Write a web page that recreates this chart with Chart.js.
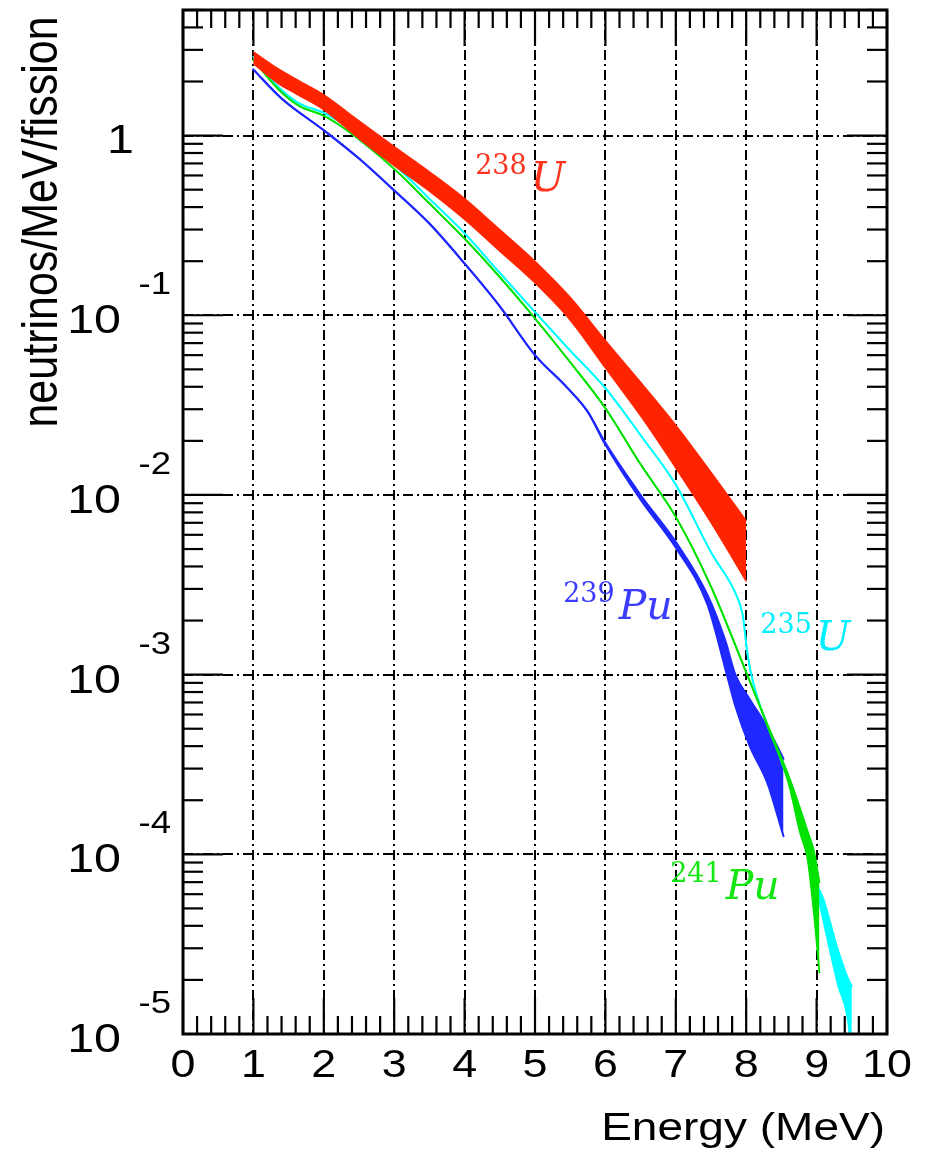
<!DOCTYPE html>
<html>
<head>
<meta charset="utf-8">
<script src="https://cdn.jsdelivr.net/npm/chart.js@4.4.1/dist/chart.umd.min.js"></script>
<style>
html,body{margin:0;padding:0;background:#ffffff;}
#wrap{position:relative;width:930px;height:1149px;}
</style>
</head>
<body>
<div id="wrap"><canvas id="c"></canvas></div>
<script>
// ---------- data ----------
// 238U band
const u238X     = [1, 1.35, 1.6, 2, 2.5, 3, 3.5, 4, 4.5, 5, 5.5, 6, 6.5, 7, 7.5, 8];
const u238Upper = [2.93, 2.36, 2.07, 1.69, 1.21, 0.87, 0.63, 0.447, 0.30, 0.200, 0.126, 0.0726, 0.0425, 0.0245, 0.0134, 0.0072];
const u238Lower = [2.51, 1.95, 1.71, 1.39, 0.96, 0.68, 0.49, 0.341, 0.227, 0.151, 0.0938, 0.0508, 0.0275, 0.0141, 0.0070, 0.0033];

// 241Pu band
const pu241X     = [1, 1.35, 1.64, 2, 2.3, 3, 3.5, 4, 4.5, 5, 5.5, 6, 6.5, 7, 7.5, 8, 8.3, 8.6, 8.77, 8.87, 8.96, 9.04];
const pu241Upper = [2.63, 1.82, 1.47, 1.29, 1.09, 0.653, 0.419, 0.267, 0.163, 0.096, 0.0548, 0.0304, 0.0148, 0.00755, 0.00309, 0.00103, 0.00053, 0.000275, 0.000178, 0.000135, 0.000105, 0.000070];
const pu241Lower = [2.63, 1.82, 1.47, 1.29, 1.09, 0.653, 0.419, 0.267, 0.163, 0.096, 0.0548, 0.0304, 0.0148, 0.00755, 0.00309, 0.00103, 0.00052, 0.000250, 0.000130, 0.000095, 0.000048, 0.000022];

// 235U band
const u235X     = [1, 1.35, 1.64, 2, 2.3, 3, 3.5, 4, 4.5, 5, 5.5, 6, 6.5, 7, 7.5, 7.87, 7.95, 8.02, 8.1, 8.5, 8.85, 9.0, 9.1, 9.3, 9.45, 9.5];
const u235Upper = [2.74, 1.87, 1.52, 1.34, 1.14, 0.69, 0.445, 0.286, 0.172, 0.104, 0.0635, 0.0393, 0.0215, 0.0114, 0.0048, 0.00271, 0.00215, 0.00129, 0.00090, 0.00033, 0.000128, 0.000070, 0.000056, 0.0000297, 0.0000202, 0.0000185];
const u235Lower = [2.74, 1.87, 1.52, 1.34, 1.14, 0.69, 0.445, 0.286, 0.172, 0.104, 0.0635, 0.0393, 0.0215, 0.0114, 0.0048, 0.00271, 0.00215, 0.00129, 0.00090, 0.00033, 0.000128, 0.000064, 0.000042, 0.0000190, 0.0000115, 0.0000070];

// 239Pu band
const pu239X     = [1, 1.4, 2, 2.5, 3, 3.5, 4, 4.5, 5, 5.45, 5.75, 6, 6.5, 7, 7.45, 7.7, 7.85, 8.05, 8.3, 8.53];
const pu239Upper = [2.33, 1.61, 1.07, 0.745, 0.495, 0.324, 0.194, 0.112, 0.060, 0.0398, 0.0290, 0.0195, 0.0100, 0.00548, 0.00278, 0.00156, 0.00099, 0.00073, 0.00051, 0.00034];
const pu239Lower = [2.33, 1.61, 1.07, 0.745, 0.495, 0.324, 0.194, 0.112, 0.060, 0.0398, 0.0290, 0.0190, 0.0094, 0.00508, 0.00245, 0.00109, 0.00066, 0.00040, 0.00025, 0.000126];

// axes
const xTickValues = [0, 1, 2, 3, 4, 5, 6, 7, 8, 9, 10];
const xTickLabels = ['0', '1', '2', '3', '4', '5', '6', '7', '8', '9', '10'];
const yDecades    = [1e-5, 1e-4, 1e-3, 1e-2, 1e-1, 1];
const yExponents  = ['-5', '-4', '-3', '-2', '-1', ''];
const yMin = 1e-5, yMax = 5, xMin = 0, xMax = 10;

// isotope names
const isoMass  = ['238', '239', '235', '241'];
const isoName  = ['U', 'Pu', 'U', 'Pu'];

// ---------- styles ----------
const RED = 'rgb(255,36,0)', GREEN = 'rgb(0,225,0)', CYAN = 'rgb(0,255,255)', BLUE = 'rgb(30,40,255)';
const isoColor = ['rgb(255,50,30)', 'rgb(60,60,255)', 'rgb(0,240,255)', 'rgb(20,230,20)'];
// anchor of each isotope label (data coordinates of the left end / baseline of the mass number)
const isoAnchor = [{x: 4.15, y: 0.615}, {x: 5.40, y: 0.00255}, {x: 8.20, y: 0.00171}, {x: 6.92, y: 7.0e-5}];

function pts(xs, ys) { return xs.map((x, i) => ({x: x, y: ys[i]})); }
function band(xs, up, lo, color, bw) {
  const common = {
    borderColor: color, backgroundColor: color, borderWidth: bw,
    pointRadius: 0, cubicInterpolationMode: 'monotone',
    borderCapStyle: 'round', borderJoinStyle: 'round'
  };
  return [
    Object.assign({data: pts(xs, up), fill: '+1'}, common),
    Object.assign({data: pts(xs, lo), fill: false}, common)
  ];
}

const datasets = [].concat(
  band(u238X, u238Upper, u238Lower, RED, 1.2),
  band(pu241X, pu241Upper, pu241Lower, GREEN, 1.8),
  band(u235X, u235Upper, u235Lower, CYAN, 1.8),
  band(pu239X, pu239Upper, pu239Lower, BLUE, 2.0)
);

const FONT = '"Liberation Sans", Arial, Helvetica, sans-serif';
const SERIF = '"DejaVu Serif", "Liberation Serif", serif';
const STRETCH = 1.18;

const rootAxes = {
  id: 'rootAxes',
  afterDraw(chart) {
    const ctx = chart.ctx, a = chart.chartArea, xs = chart.scales.x, ys = chart.scales.y;
    ctx.save();
    ctx.strokeStyle = '#000';
    ctx.lineWidth = 2.2;
    ctx.lineCap = 'butt';
    function seg(x1, y1, x2, y2) { ctx.beginPath(); ctx.moveTo(x1, y1); ctx.lineTo(x2, y2); ctx.stroke(); }
    function txt(s, x, y, align, font) {
      ctx.save();
      ctx.translate(x, y);
      ctx.scale(STRETCH, 1);
      ctx.font = font;
      ctx.textAlign = align;
      ctx.textBaseline = 'alphabetic';
      ctx.fillText(s, 0, 0);
      ctx.restore();
    }
    // x ticks (major every 1, minor every 0.2) on bottom and top
    for (let i = 0; i <= 50; i++) {
      const v = xMin + i * 0.2;
      const px = xs.getPixelForValue(v);
      const len = (i % 5 === 0) ? 36 : 18;
      seg(px, a.bottom, px, a.bottom - len);
      seg(px, a.top, px, a.top + len);
    }
    // y ticks (log) on left and right
    for (let e = -5; e <= 0; e++) {
      for (let m = 1; m <= 9; m++) {
        const v = m * Math.pow(10, e);
        if (v > yMax || v < yMin) continue;
        const py = ys.getPixelForValue(v);
        const len = (m === 1) ? 40 : 20;
        seg(a.left, py, a.left + len, py);
        seg(a.right, py, a.right - len, py);
      }
    }
    // frame
    ctx.lineWidth = 3;
    ctx.strokeRect(a.left, a.top, a.right - a.left, a.bottom - a.top);

    // x tick labels
    ctx.fillStyle = '#000';
    xTickValues.forEach((v, i) => {
      txt(xTickLabels[i], xs.getPixelForValue(v), a.bottom + 43, 'center', '38px ' + FONT);
    });
    // y tick labels (10 with exponent above-right)
    yDecades.forEach((v, i) => {
      const py = ys.getPixelForValue(v);
      if (yExponents[i] === '') {
        txt('1', a.left - 49, py + 17, 'right', '41px ' + FONT);
      } else {
        txt('10', a.left - 62, py + 18, 'right', '41px ' + FONT);
        txt(yExponents[i], a.left - 12, py - 21, 'right', '31px ' + FONT);
      }
    });
    // axis titles
    txt('Energy (MeV)', a.right - 2, a.bottom + 106, 'right', '39px ' + FONT);
    ctx.save();
    ctx.translate(57, 222);
    ctx.rotate(-Math.PI / 2);
    ctx.scale(1, STRETCH);
    ctx.textAlign = 'center';
    ctx.textBaseline = 'alphabetic';
    ctx.font = '43px ' + FONT;
    ctx.fillText('neutrinos/MeV/fission', 0, 0);
    ctx.restore();

    // isotope labels
    isoMass.forEach((m, i) => {
      const px = xs.getPixelForValue(isoAnchor[i].x);
      const py = ys.getPixelForValue(isoAnchor[i].y);
      ctx.fillStyle = isoColor[i];
      ctx.textAlign = 'left';
      ctx.textBaseline = 'alphabetic';
      ctx.font = '27px ' + SERIF;
      ctx.fillText(m, px, py);
      const w = ctx.measureText(m).width;
      ctx.font = 'italic 41px ' + SERIF;
      ctx.fillText(isoName[i], px + w + 4, py + 17);
    });
    ctx.restore();
  }
};

const gridCommon = {color: '#000', lineWidth: 2, drawTicks: false};
const borderCommon = {display: false, dash: [10, 4, 2, 4]};

new Chart(document.getElementById('c'), {
  type: 'line',
  data: {datasets: datasets},
  options: {
    responsive: true,
    maintainAspectRatio: false,
    animation: false,
    events: [],
    layout: {padding: {top: 10, right: 43, left: 0, bottom: 0}},
    plugins: {legend: {display: false}, tooltip: {enabled: false}},
    scales: {
      x: {
        type: 'linear', min: xMin, max: xMax,
        ticks: {display: false},
        grid: gridCommon, border: borderCommon,
        afterBuildTicks(s) { s.ticks = xTickValues.map(v => ({value: v})); },
        afterFit(s) { s.height = 115; }
      },
      y: {
        type: 'logarithmic', min: yMin, max: yMax,
        ticks: {display: false},
        grid: gridCommon, border: borderCommon,
        afterBuildTicks(s) { s.ticks = yDecades.map(v => ({value: v})); },
        afterFit(s) { s.width = 183; }
      }
    }
  },
  plugins: [rootAxes]
});
</script>
</body>
</html>
